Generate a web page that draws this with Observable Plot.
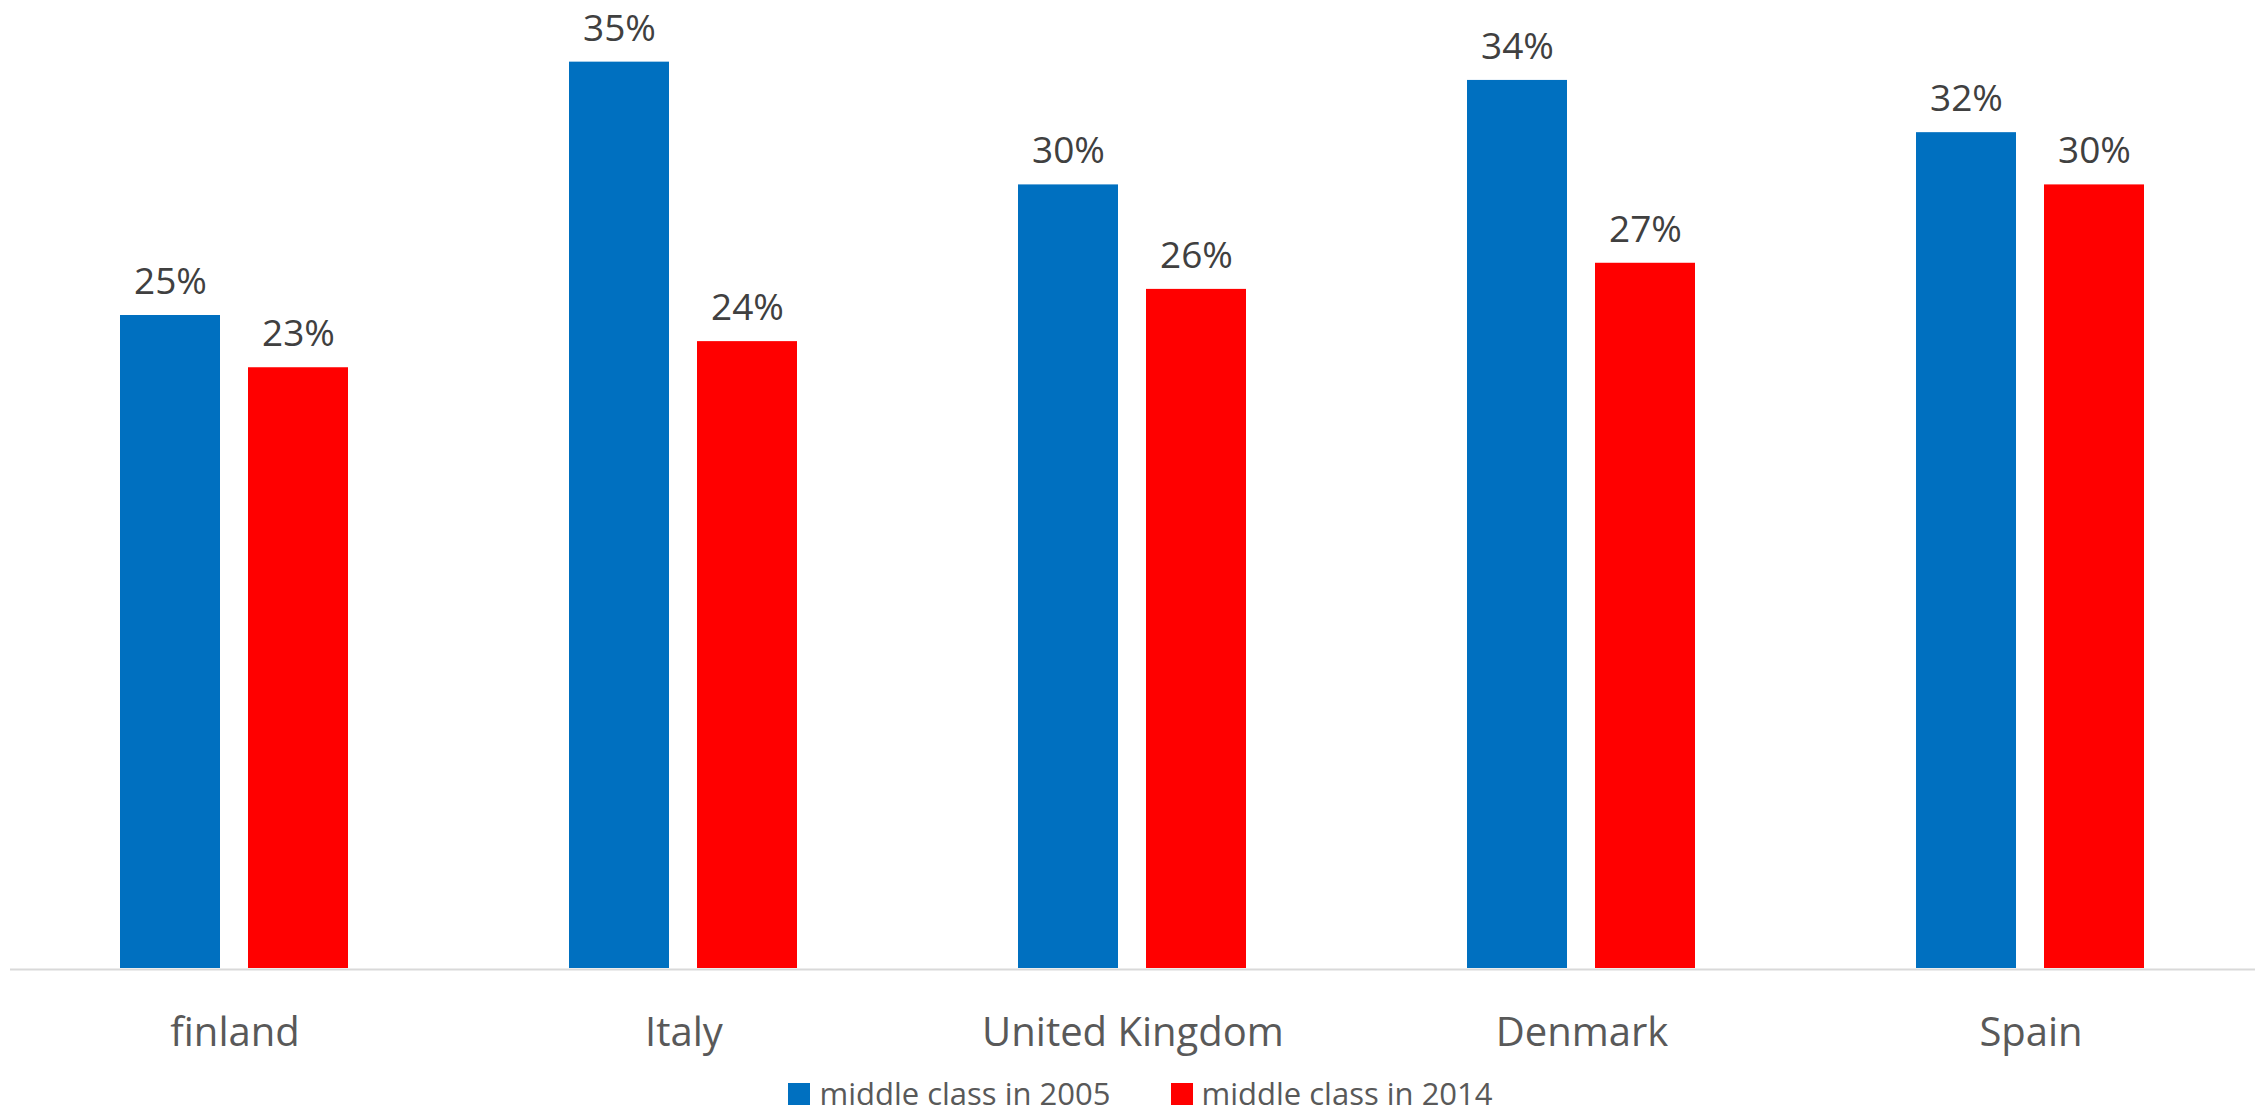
<!DOCTYPE html>
<html>
<head>
<meta charset="utf-8">
<script src="https://cdn.jsdelivr.net/npm/d3@7"></script>
<script src="https://cdn.jsdelivr.net/npm/@observablehq/plot@0.6"></script>
<style>
  html, body { margin: 0; padding: 0; background: #fff; }
  #chart svg { display: block; }
  #legend { height: 41px; display: flex; justify-content: center; align-items: flex-start; padding-left: 19px; box-sizing: border-box; font-family: "Open Sans", sans-serif; font-size: 31px; color: #595959; }
  .item { display: flex; align-items: center; margin-top: 8px; line-height: 1; }
  .item + .item { margin-left: 60px; }
  .sw { width: 22px; height: 22px; margin-right: 9px; }
</style>
</head>
<body>
<div id="chart"></div>
<div id="legend"></div>
<script>
const countries = ["finland", "Italy", "United Kingdom", "Denmark", "Spain"];
const series = ["middle class in 2005", "middle class in 2014"];
const colors = ["#0070C0", "#FF0000"];
const v2005 = [25.0, 34.7, 30.0, 34.0, 32.0];
const v2014 = [23.0, 24.0, 26.0, 27.0, 30.0];

const data = countries.flatMap((c, i) => [
  {country: c, series: series[0], value: v2005[i]},
  {country: c, series: series[1], value: v2014[i]}
]);

const chart = Plot.plot({
  width: 2262,
  height: 1070,
  marginTop: 0,
  marginLeft: 10,
  marginRight: 7,
  marginBottom: 102,
  style: {fontFamily: "Open Sans", background: "white"},
  fx: {domain: countries, padding: 0, label: null},
  x: {domain: series, paddingInner: 0.215, paddingOuter: 0.853, axis: null},
  y: {domain: [0, 37.06], axis: null},
  color: {domain: series, range: colors},
  marks: [
    Plot.ruleY([0], {stroke: "#d9d9d9", strokeWidth: 2, dy: 1}),
    Plot.barY(data, {fx: "country", x: "series", y: "value", fill: "series"}),
    Plot.text(data, {fx: "country", x: "series", y: "value", text: d => Math.round(d.value) + "%", lineAnchor: "bottom", dy: -21.5, fontSize: 37, fill: "#404040"}),
    Plot.axisFx({anchor: "bottom", tickSize: 0, tickPadding: 49, fontSize: 40, fill: "#595959", label: null})
  ]
});
document.getElementById("chart").append(chart);

const legend = document.getElementById("legend");
series.forEach((s, i) => {
  const item = document.createElement("div");
  item.className = "item";
  const sw = document.createElement("span");
  sw.className = "sw";
  sw.style.background = colors[i];
  const t = document.createElement("span");
  t.textContent = s;
  item.append(sw, t);
  legend.append(item);
});
</script>
</body>
</html>
